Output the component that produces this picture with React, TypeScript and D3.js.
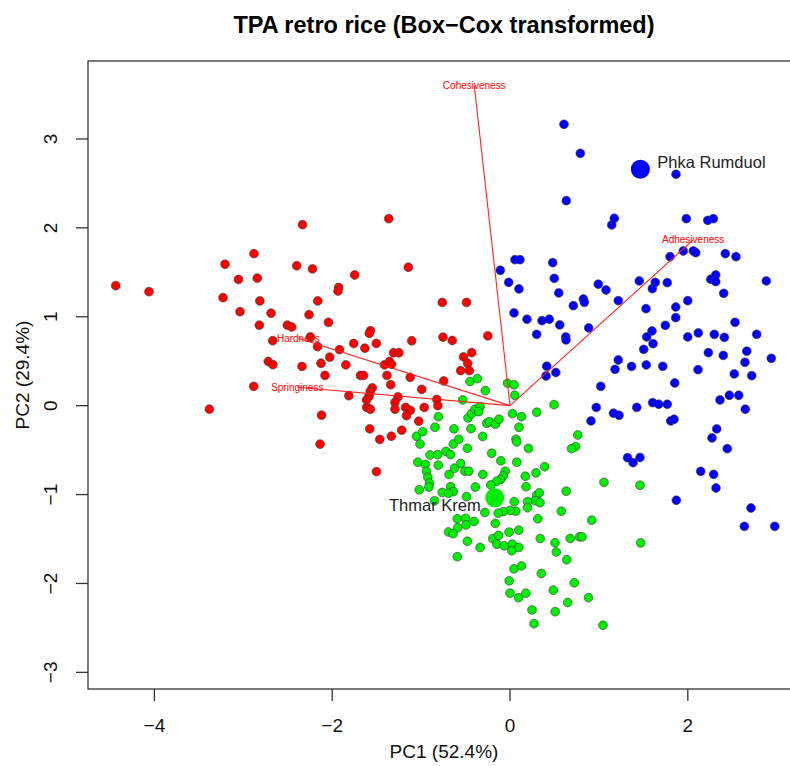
import React from "react";
import * as d3 from "d3";

// ---------- Data (PC scores) ----------
const groupNames = ["cluster1", "cluster2", "cluster3"];
const groupColors = ["#FF0000", "#00EE00", "#0000FF"];

const redScores: [number, number][] = [
  [-4.435, 1.35], [-4.061, 1.282], [-3.206, 1.591], [-2.88, 1.71], [-2.334, 2.036], [-1.364, 2.103],
  [-3.054, 1.42], [-2.843, 1.434], [-2.399, 1.574], [-2.222, 1.538], [-1.747, 1.47], [-1.144, 1.557],
  [-3.228, 1.215], [-2.814, 1.178], [-2.163, 1.178], [-1.927, 1.33], [-1.935, 1.29], [-3.037, 1.057],
  [-2.688, 1.04], [-2.261, 1.024], [-2.042, 0.938], [-2.82, 0.906], [-2.505, 0.906], [-2.456, 0.885],
  [-1.569, 0.843], [-1.583, 0.814], [-2.669, 0.731], [-2.246, 0.773], [-2.165, 0.664], [-1.918, 0.63],
  [-1.758, 0.7], [-1.633, 0.647], [-1.504, 0.7], [-1.106, 0.73], [-1.31, 0.595], [-1.249, 0.595],
  [-2.028, 0.546], [-2.719, 0.497], [-2.668, 0.461], [-2.34, 0.441], [-2.126, 0.477], [-1.847, 0.46],
  [-1.412, 0.46], [-1.355, 0.497], [-1.333, 0.466], [-2.081, 0.34], [-1.682, 0.34], [-1.648, 0.34],
  [-1.384, 0.34], [-1.123, 0.319], [-2.883, 0.218], [-1.341, 0.236], [-0.993, 0.184], [-1.813, 0.112],
  [-1.549, 0.201], [-1.573, 0.16], [-1.586, 0.107], [-1.614, 0.064], [-1.612, -0.018], [-1.571, -0.04],
  [-1.26, 0.1], [-1.294, 0.036], [-1.294, -0.04], [-1.175, -0.02], [-1.121, -0.052], [-1.164, -0.112],
  [-0.965, -0.02], [-0.823, 0.07], [-0.812, 0.0], [-3.382, -0.039], [-2.12, -0.107], [-1.027, -0.174],
  [-1.578, -0.26], [-1.218, -0.276], [-1.335, -0.344], [-1.465, -0.38], [-2.137, -0.433], [-1.502, -0.742],
  [-0.762, 1.161], [-0.489, 1.161], [-0.754, 0.771], [-0.65, 0.733], [-0.25, 0.786], [-0.523, 0.548],
  [-0.431, 0.596], [-0.476, 0.477], [-0.555, 0.394], [-0.458, 0.394], [-0.746, 0.278],
];

const greenScores: [number, number][] = [
  [-0.45, 0.272], [-0.368, 0.304], [-0.278, 0.169], [-0.028, 0.253], [0.045, 0.235], [0.053, 0.117],
  [0.495, 0.011], [-0.532, 0.064], [-0.807, -0.124], [-0.844, -0.243], [-0.63, -0.26], [-0.439, -0.259],
  [-0.472, -0.138], [-0.431, -0.088], [-0.394, -0.04], [-0.337, -0.011], [-0.352, -0.067], [-0.307, -0.346],
  [-0.262, -0.198], [-0.233, -0.18], [-0.165, -0.208], [-0.124, -0.153], [0.028, -0.09], [0.129, -0.124],
  [0.3, -0.074], [0.101, -0.243], [0.067, -0.378], [0.075, -0.408], [0.208, -0.481], [0.762, -0.33],
  [0.737, -0.461], [0.692, -0.484], [-1.052, -0.344], [-0.982, -0.292], [-1.012, -0.431], [-0.638, -0.431],
  [-0.576, -0.378], [-0.48, -0.479], [-0.9, -0.555], [-0.813, -0.551], [-0.72, -0.515], [-0.669, -0.551],
  [-1.037, -0.636], [-0.954, -0.661], [-0.939, -0.74], [-0.925, -0.804], [-0.906, -0.87], [-0.913, -0.915],
  [-0.807, -0.669], [-0.624, -0.703], [-0.555, -0.65], [-0.508, -0.737], [-0.463, -0.737], [-0.686, -0.774],
  [-0.306, -0.774], [-0.206, -0.535], [-0.103, -0.62], [0.076, -0.636], [-0.054, -0.737], [-0.075, -0.791],
  [-0.105, -0.828], [-0.15, -0.85], [-0.216, -0.892], [-0.39, -0.915], [-0.667, -0.911], [-0.638, -0.967],
  [-0.763, -0.976], [-0.692, -0.985], [-1.021, -0.946], [-0.849, -1.07], [-0.489, -1.024], [0.171, -0.794],
  [0.292, -0.755], [0.39, -0.687], [0.18, -0.911], [0.3, -1.008], [0.33, -0.98], [0.281, -1.069],
  [0.337, -1.091], [0.197, -1.08], [0.197, -1.148], [0.047, -1.08], [0.064, -1.187], [0.0, -1.179],
  [-0.075, -1.192], [-0.133, -1.209], [-0.283, -1.201], [0.632, -0.962], [0.577, -1.187], [0.919, -1.288],
  [1.057, -0.862], [1.462, -0.895], [1.47, -1.544], [-0.594, -1.272], [-0.501, -1.267], [-0.495, -1.342],
  [-0.405, -1.303], [-0.588, -1.373], [-0.692, -1.421], [-0.641, -1.44], [-0.48, -1.525], [-0.337, -1.595],
  [-0.593, -1.699], [-0.166, -1.323], [-0.193, -1.496], [-0.129, -1.46], [-0.148, -1.559], [-0.065, -1.576],
  [0.025, -1.558], [0.099, -1.595], [0.02, -1.632], [0.099, -1.4], [-0.011, -1.423], [0.313, -1.272],
  [0.34, -1.494], [0.506, -1.542], [0.521, -1.646], [0.677, -1.494], [0.782, -1.475], [0.81, -1.475],
  [0.638, -1.733], [0.045, -1.835], [0.129, -1.803], [0.352, -1.888], [-0.009, -1.97], [0.722, -1.992],
  [0.0, -2.109], [0.096, -2.16], [0.178, -2.11], [0.487, -2.075], [0.649, -2.214], [0.883, -2.16],
  [0.247, -2.298], [0.508, -2.317], [0.27, -2.452], [1.046, -2.47],
];

const blueScores: [number, number][] = [
  [0.607, 3.165], [0.791, 2.839], [1.867, 2.603], [0.633, 2.306], [1.173, 2.108], [1.144, 2.033],
  [1.983, 2.103], [2.224, 2.085], [2.287, 2.103], [1.8, 1.676], [1.949, 1.74], [2.062, 1.74],
  [2.089, 1.721], [2.422, 1.71], [2.542, 1.676], [-0.109, 1.523], [0.056, 1.642], [0.112, 1.642],
  [0.48, 1.609], [-0.015, 1.388], [0.101, 1.313], [0.498, 1.433], [0.548, 1.268], [0.993, 1.366],
  [1.08, 1.301], [1.454, 1.403], [1.634, 1.388], [1.601, 1.316], [1.769, 1.384], [2.258, 1.422],
  [2.314, 1.47], [2.314, 1.395], [2.883, 1.403], [2.404, 1.264], [1.218, 1.181], [0.825, 1.2],
  [0.836, 1.163], [0.712, 1.125], [0.045, 1.043], [0.191, 0.972], [0.36, 0.956], [0.442, 0.972],
  [0.559, 0.908], [0.3, 0.803], [0.627, 0.773], [0.885, 0.874], [1.53, 1.091], [1.864, 1.11],
  [1.999, 1.181], [1.864, 0.99], [1.747, 0.904], [1.597, 0.84], [1.538, 0.773], [1.609, 0.697],
  [1.504, 0.634], [1.999, 0.773], [2.118, 0.818], [2.298, 0.803], [2.411, 0.769], [2.531, 0.938],
  [2.775, 0.803], [2.231, 0.596], [2.399, 0.565], [2.663, 0.613], [2.939, 0.533], [1.218, 0.514],
  [0.63, 0.739], [1.181, 0.409], [1.367, 0.441], [1.533, 0.458], [1.718, 0.443], [2.643, 0.488],
  [2.115, 0.405], [2.523, 0.357], [2.719, 0.337], [0.413, 0.444], [0.515, 0.373], [0.405, 0.334],
  [1.853, 0.255], [1.021, 0.218], [2.362, 0.064], [2.467, 0.117], [2.573, 0.117], [2.647, -0.04],
  [0.97, -0.02], [1.164, -0.085], [1.226, -0.108], [1.426, -0.02], [1.605, 0.034], [1.673, 0.016],
  [1.769, 0.016], [0.911, -0.172], [1.808, -0.172], [1.845, -0.153], [2.325, -0.262], [2.272, -0.363],
  [2.444, -0.484], [1.322, -0.585], [1.384, -0.641], [1.462, -0.583], [2.145, -0.738], [2.291, -0.772],
  [2.317, -0.926], [1.871, -1.064], [2.711, -1.151], [2.636, -1.357], [2.978, -1.357],
];

const highlightNames = ["Phka Rumduol", "Thmar Krem"];
const highlightScores: [number, number][] = [[1.466, 2.659], [-0.172, -1.035]];
const highlightGroup = [2, 1];

const loadingNames = ["Cohesiveness", "Adhesiveness", "Hardness", "Springiness"];
const loadingScores: [number, number][] = [[-0.402, 3.602], [2.06, 1.864], [-2.381, 0.758], [-2.393, 0.207]];

const xTicks = [-4, -2, 0, 2];
const yTicks = [-3, -2, -1, 0, 1, 2, 3];

const titleText = "TPA retro rice (Box\u2212Cox transformed)";
const xLabel = "PC1 (52.4%)";
const yLabel = "PC2 (29.4%)";

// ---------- Layout ----------
const W = 790;
const H = 766;
const plotLeft = 88;
const plotRight = 800;
const plotTop = 61;
const plotBottom = 689;
const FONT = "'Liberation Sans', Arial, Helvetica, sans-serif";

const fmt = (v: number) => (v < 0 ? "\u2212" + Math.abs(v) : String(v));

export default function App() {
  const x = d3.scaleLinear().domain([-4.747, 3.262]).range([plotLeft, plotRight]);
  const y = d3.scaleLinear().domain([-3.187, 3.877]).range([plotBottom, plotTop]);

  const groups = [redScores, greenScores, blueScores];
  const pointR = 4.4;

  return (
    <svg
      width={W}
      height={H}
      viewBox={`0 0 ${W} ${H}`}
      style={{ position: "absolute", left: 0, top: 0, background: "#fff" }}
      fontFamily={FONT}
    >
      <rect x={0} y={0} width={W} height={H} fill="#fff" />
      {/* title */}
      <text x={(plotLeft + plotRight) / 2} y={33} textAnchor="middle" fontSize={23.5} fontWeight="bold" fill="#000">
        {titleText}
      </text>

      {/* points */}
      {groups.map((pts, gi) => (
        <g key={groupNames[gi]}>
          {pts.map((p, i) => (
            <circle
              key={i}
              cx={x(p[0])}
              cy={y(p[1])}
              r={pointR}
              fill={groupColors[gi]}
              stroke="#3a3a3a"
              strokeOpacity={0.75}
              strokeWidth={0.8}
            />
          ))}
        </g>
      ))}

      {/* loading vectors */}
      <g>
        {loadingScores.map((l, i) => (
          <line
            key={loadingNames[i]}
            x1={x(0)}
            y1={y(0)}
            x2={x(l[0])}
            y2={y(l[1])}
            stroke="#FF2020"
            strokeWidth={1.1}
          />
        ))}
        {loadingScores.map((l, i) => (
          <text
            key={"t" + loadingNames[i]}
            x={x(l[0])}
            y={y(l[1])}
            textAnchor="middle"
            dominantBaseline="central"
            fontSize={10}
            fill="#FF0000"
          >
            {loadingNames[i]}
          </text>
        ))}
      </g>

      {/* highlighted varieties */}
      {highlightScores.map((p, i) => (
        <g key={highlightNames[i]}>
          <circle cx={x(p[0])} cy={y(p[1])} r={9.5} fill={groupColors[highlightGroup[i]]} />
          <text
            x={x(p[0]) + (i === 0 ? 17 : -14)}
            y={y(p[1]) + (i === 0 ? -7 : 7)}
            textAnchor={i === 0 ? "start" : "end"}
            dominantBaseline="central"
            fontSize={16.5}
            fill="#222"
          >
            {highlightNames[i]}
          </text>
        </g>
      ))}

      {/* frame */}
      <rect
        x={plotLeft}
        y={plotTop}
        width={plotRight - plotLeft}
        height={plotBottom - plotTop}
        fill="none"
        stroke="#333"
        strokeWidth={1.3}
      />

      {/* x axis */}
      <g>
        {xTicks.map((t) => (
          <g key={t}>
            <line x1={x(t)} x2={x(t)} y1={plotBottom} y2={plotBottom + 12} stroke="#333" strokeWidth={1.3} />
            <text x={x(t)} y={plotBottom + 36} textAnchor="middle" dominantBaseline="central" fontSize={19} fill="#111">
              {fmt(t)}
            </text>
          </g>
        ))}
        <text x={(plotLeft + plotRight) / 2} y={751} textAnchor="middle" dominantBaseline="central" fontSize={19} fill="#111">
          {xLabel}
        </text>
      </g>

      {/* y axis */}
      <g>
        {yTicks.map((t) => (
          <g key={t}>
            <line x1={plotLeft - 12} x2={plotLeft} y1={y(t)} y2={y(t)} stroke="#333" strokeWidth={1.3} />
            <text
              transform={`translate(${plotLeft - 38},${y(t)}) rotate(-90)`}
              textAnchor="middle"
              dominantBaseline="central"
              fontSize={19}
              fill="#111"
            >
              {fmt(t)}
            </text>
          </g>
        ))}
        <text
          transform={`translate(22,${(plotTop + plotBottom) / 2}) rotate(-90)`}
          textAnchor="middle"
          dominantBaseline="central"
          fontSize={19}
          fill="#111"
        >
          {yLabel}
        </text>
      </g>
    </svg>
  );
}
